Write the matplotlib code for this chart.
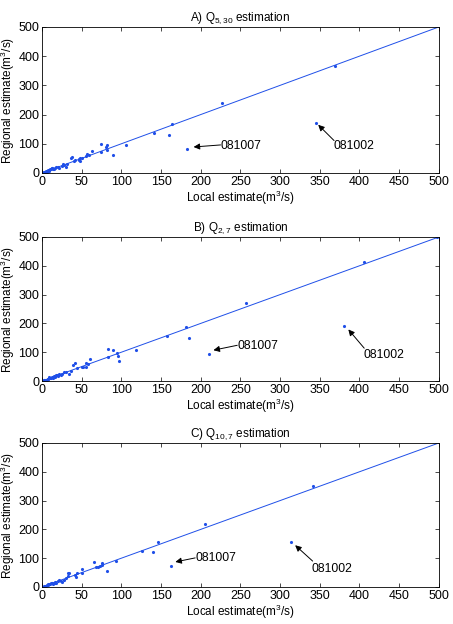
import numpy as np
import matplotlib
matplotlib.use("Agg")
import matplotlib.pyplot as plt

plt.rcParams['font.family'] = ['Liberation Sans', 'DejaVu Sans']
plt.rcParams['mathtext.fontset'] = 'custom'
plt.rcParams['mathtext.rm'] = 'Liberation Sans'
plt.rcParams['mathtext.it'] = 'Liberation Sans:italic'

# panel A: Q5,30
local_a = [369, 227, 164, 160, 141, 183, 345, 106, 89, 82, 81, 82, 74, 74, 63, 57, 55, 59,
           48, 47, 48, 46, 50, 38, 36, 40, 42, 30, 32, 28, 26, 20, 18, 15, 12, 10, 8, 5, 3,
           2, 1, 14, 17, 22, 25, 13, 9, 6, 11, 7, 4]
regional_a = [366, 240, 166, 131, 138, 83, 170, 96, 62, 95, 88, 77, 98, 73, 75, 65, 57, 60,
              52, 44, 40, 47, 50, 55, 52, 42, 45, 22, 32, 28, 30, 20, 22, 15, 18, 14, 10, 6, 3,
              2, 1, 12, 16, 18, 25, 17, 8, 4, 12, 7, 5]

# panel B: Q2,7
local_b = [406, 498, 257, 182, 185, 157, 119, 210, 381, 97, 96, 94, 90, 83, 83, 60, 56, 58,
           56, 52, 50, 42, 39, 44, 36, 34, 30, 28, 24, 22, 20, 18, 15, 12, 10, 8, 6, 4, 2, 1,
           14, 16, 9, 11, 7, 5, 3, 19, 25]
regional_b = [412, 499, 271, 188, 148, 156, 109, 94, 192, 71, 86, 98, 108, 112, 84, 77, 62, 60,
              47, 50, 48, 62, 57, 45, 36, 25, 33, 30, 22, 25, 18, 22, 18, 15, 12, 8, 5, 4, 2, 1,
              12, 14, 15, 10, 7, 3, 2, 20, 26]

# panel C: Q10,7
local_c = [341, 206, 146, 140, 126, 162, 314, 93, 82, 75, 75, 73, 70, 68, 65, 51, 50, 44,
           42, 43, 34, 33, 33, 30, 28, 25, 24, 22, 20, 18, 16, 14, 12, 10, 8, 7, 5, 3, 2, 1,
           9, 11, 13, 6, 4, 17]
regional_c = [352, 217, 157, 121, 124, 74, 156, 91, 57, 85, 78, 74, 70, 68, 87, 63, 50, 48,
              40, 35, 49, 47, 38, 30, 25, 18, 22, 26, 20, 15, 17, 12, 14, 11, 12, 8, 5, 3, 1, 1,
              9, 13, 15, 7, 4, 14]

titles = ['A) Q$_{5,30}$ estimation', 'B) Q$_{2,7}$ estimation', 'C) Q$_{10,7}$ estimation']
ticks = [0, 50, 100, 150, 200, 250, 300, 350, 400, 450, 500]

# label text position, arrow head position (and tail for 081002)
notes = [
    [((225, 94), (191, 89)), ((367, 94), (348, 165), (368, 111))],
    [((246, 122), (216, 107)), ((405, 90), (386, 179), (406, 114))],
    [((193, 99), (168, 87)), ((340, 64), (319, 145), (341, 90))],
]

data = [(local_a, regional_a), (local_b, regional_b), (local_c, regional_c)]
rects = [[0.0927, 0.7228, 0.876, 0.234],
         [0.0927, 0.3894, 0.876, 0.2308],
         [0.0927, 0.0593, 0.876, 0.2308]]

fig = plt.figure(figsize=(4.53, 6.24), dpi=100)
blue = '#1f4fe8'
arrow = dict(arrowstyle='-|>', color='k', lw=0.7, mutation_scale=9, shrinkA=0, shrinkB=0)

for i in range(3):
    ax = fig.add_axes(rects[i])
    x, y = data[i]
    ax.plot([0, 500], [0, 500], color=blue, lw=0.7)
    ax.plot(x, y, '.', color=blue, ms=2.5)
    ax.set_xlim(0, 500)
    ax.set_ylim(0, 500)
    ax.set_xticks(ticks)
    ax.set_yticks([0, 100, 200, 300, 400, 500])
    ax.tick_params(direction='in', top=True, right=True, length=3, width=0.5,
                   labelsize=9, pad=2)
    for s in ax.spines.values():
        s.set_linewidth(0.6)
    ax.set_title(titles[i], fontsize=8.5, pad=4)
    ax.set_xlabel('Local estimate(m$^3$/s)', fontsize=8.5, labelpad=1)
    ax.set_ylabel('Regional estimate(m$^3$/s)', fontsize=8.5, labelpad=1)

    (t1, h1), (t2, h2, tail2) = notes[i]
    ax.annotate('', xy=h1, xytext=(t1[0], t1[1] + 2), arrowprops=arrow)
    ax.text(t1[0], t1[1], '081007', fontsize=8.7, va='center', ha='left')
    ax.annotate('', xy=h2, xytext=tail2, arrowprops=arrow)
    ax.text(t2[0], t2[1], '081002', fontsize=8.7, va='center', ha='left')

fig.savefig('out.png', dpi=100)
